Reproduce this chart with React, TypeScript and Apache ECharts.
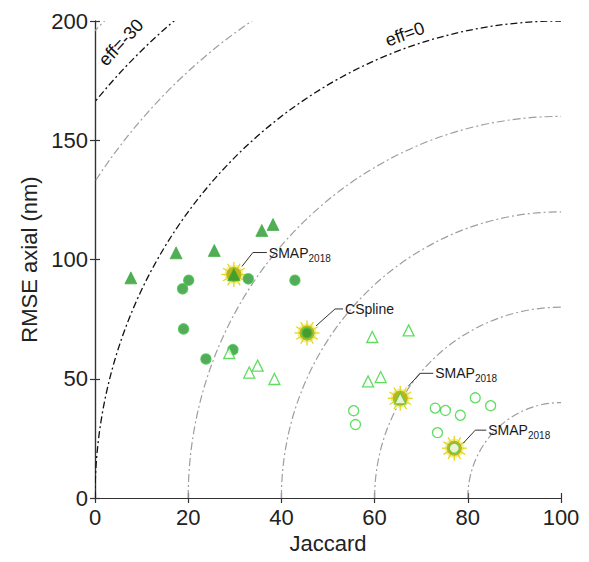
import React, { useEffect, useRef } from "react";
import * as echarts from "echarts";

// ---- data (Jaccard %, RMSE axial nm) ----
const filledTriangles: number[][] = [
  [7.7, 92.3], [17.4, 102.8], [25.6, 103.8], [35.8, 112.2], [38.2, 114.7], [29.8, 93.7],
];
const filledCircles: number[][] = [
  [20.1, 91.3], [18.8, 87.7], [32.9, 91.9], [42.9, 91.3], [19.0, 70.9],
  [29.6, 62.2], [23.8, 58.3], [45.5, 69.2],
];
const openTriangles: number[][] = [
  [28.8, 60.8], [33.1, 52.6], [34.9, 55.5], [38.5, 49.9], [59.5, 67.5],
  [67.3, 70.3], [58.6, 48.9], [61.3, 50.7], [65.5, 41.8],
];
const openCircles: number[][] = [
  [55.5, 36.6], [55.9, 30.8], [73.0, 37.7], [75.2, 36.7], [78.4, 34.7],
  [81.6, 42.0], [84.9, 38.7], [73.5, 27.4], [77.1, 20.9],
];

// iso-efficiency levels
const effGray: number[] = [-40, -20, 20, 40, 60, 80];
const effBlack: number[] = [-30, 0];

// highlighted entries: which array/index, label text, leader-line offsets (px)
const highlights = [
  { set: "filledTriangles", index: 5, main: "SMAP", sub: "2018", start: [8, -8], bend: [19, -22], end: [33, -22] },
  { set: "filledCircles", index: 7, main: "CSpline", sub: "", start: [9, -7], bend: [28, -24], end: [36, -24] },
  { set: "openTriangles", index: 8, main: "SMAP", sub: "2018", start: [8, -12], bend: [20, -25], end: [33, -25] },
  { set: "openCircles", index: 8, main: "SMAP", sub: "2018", start: [9, -5], bend: [21, -18], end: [32, -18] },
];

const effLabels = [
  { text: "eff=-30", at: [5.6, 191], rot: 47 },
  { text: "eff=0", at: [66.5, 194.5], rot: 20 },
];

const xMin = 0, xMax = 100, xInterval = 20;
const yMin = 0, yMax = 200, yInterval = 50;

const sets: Record<string, number[][]> = { filledTriangles, filledCircles, openTriangles, openCircles };

const FONT = "Liberation Sans, Arial, Helvetica, sans-serif";

export default function App() {
  const ref = useRef<HTMLDivElement>(null);
  useEffect(() => {
    if (!ref.current) return;
    const chart = echarts.init(ref.current, undefined, { renderer: "svg" });

    const ellipseSeries = (levels: number[], color: string, width: number, dash: number[]) => ({
      type: "custom",
      coordinateSystem: "cartesian2d",
      clip: true,
      silent: true,
      z: 1,
      encode: { x: 0, y: 1 },
      data: levels.map((e) => [50, 100, e]),
      renderItem: (_p: any, api: any) => {
        const eff = api.value(2);
        const r = 100 - eff;
        const c = api.coord([100, 0]);
        const s = api.size([r, 2 * r]);
        return {
          type: "ellipse",
          shape: { cx: c[0], cy: c[1], rx: s[0], ry: s[1] },
          style: { fill: "none", stroke: color, lineWidth: width, lineDash: dash },
        };
      },
    });

    const hlData = highlights.map((h) => sets[h.set][h.index]);

    const axisCommon = {
      axisLine: { show: true, lineStyle: { color: "#333", width: 1.2 } },
      axisTick: { show: true, inside: true, length: 5, lineStyle: { color: "#333", width: 1.2 } },
      splitLine: { show: false },
    };

    chart.setOption({
      animation: false,
      backgroundColor: "#fff",
      grid: { left: 95, right: 28, top: 21, bottom: 64 },
      xAxis: [
        {
          type: "value", min: xMin, max: xMax, interval: xInterval, position: "bottom",
          name: "Jaccard", nameLocation: "middle", nameGap: 34,
          nameTextStyle: { fontSize: 22, color: "#222", fontFamily: FONT },
          axisLabel: { fontSize: 22, color: "#222", fontFamily: FONT, margin: 8 },
          ...axisCommon,
        },
        {
          type: "value", min: xMin, max: xMax, interval: xInterval, position: "top",
          axisLabel: { show: false }, ...axisCommon,
        },
      ],
      yAxis: [
        {
          type: "value", min: yMin, max: yMax, interval: yInterval, position: "left",
          name: "RMSE axial (nm)", nameLocation: "middle", nameGap: 52,
          nameTextStyle: { fontSize: 22, color: "#222", fontFamily: FONT },
          axisLabel: { fontSize: 22, color: "#222", fontFamily: FONT, margin: 7 },
          ...axisCommon,
        },
        {
          type: "value", min: yMin, max: yMax, interval: yInterval, position: "right",
          axisLabel: { show: false }, ...axisCommon,
        },
      ],
      series: [
        ellipseSeries(effGray, "#9e9e9e", 1.2, [8, 3, 2, 3]),
        ellipseSeries(effBlack, "#111", 1.3, [7, 3, 2, 3]),
        {
          type: "custom",
          coordinateSystem: "cartesian2d",
          z: 2,
          silent: true,
          data: hlData,
          renderItem: (_p: any, api: any) => {
            const c = api.coord([api.value(0), api.value(1)]);
            const rays: any[] = [];
            const n = 12;
            for (let i = 0; i < n; i++) {
              const a = (i / n) * Math.PI * 2;
              rays.push({
                type: "line",
                shape: {
                  x1: c[0] + Math.cos(a) * 6, y1: c[1] + Math.sin(a) * 6,
                  x2: c[0] + Math.cos(a) * 12.5, y2: c[1] + Math.sin(a) * 12.5,
                },
                style: { stroke: "#e0d820", lineWidth: 1.3 },
              });
            }
            return {
              type: "group",
              children: [
                { type: "circle", shape: { cx: c[0], cy: c[1], r: 9.5 }, style: { fill: "rgba(232,222,40,0.5)" } },
                ...rays,
                { type: "circle", shape: { cx: c[0], cy: c[1], r: 7.5 }, style: { fill: "#bdb51e" } },
              ],
            };
          },
        },
        {
          type: "scatter", z: 3, symbol: "triangle", symbolSize: 12, data: filledTriangles,
          itemStyle: { color: "#27992c", borderColor: "#30aa36", borderWidth: 0.8 },
        },
        {
          type: "scatter", z: 3, symbol: "circle", symbolSize: 10, data: filledCircles,
          itemStyle: { color: "#2a9632", borderColor: "#40c046", borderWidth: 1.5 },
        },
        {
          type: "scatter", z: 3, symbol: "triangle", symbolSize: 11, data: openTriangles,
          itemStyle: { color: "#ffffff", borderColor: "#3ad23a", borderWidth: 1.3 },
        },
        {
          type: "scatter", z: 3, symbol: "circle", symbolSize: 10, data: openCircles,
          itemStyle: { color: "#ffffff", borderColor: "#3ad23a", borderWidth: 1.3 },
        },
      ],
    });

    const graphics: any[] = [];
    highlights.forEach((h) => {
      const v = sets[h.set][h.index];
      const p = chart.convertToPixel({ xAxisIndex: 0, yAxisIndex: 0 }, v) as number[];
      graphics.push({
        type: "polyline",
        silent: true,
        z: 10,
        shape: {
          points: [
            [p[0] + h.start[0], p[1] + h.start[1]],
            [p[0] + h.bend[0], p[1] + h.bend[1]],
            [p[0] + h.end[0], p[1] + h.end[1]],
          ],
        },
        style: { stroke: "#333", lineWidth: 1, fill: "none" },
      });
      graphics.push({
        type: "text",
        silent: true,
        z: 10,
        x: p[0] + h.end[0] + 2,
        y: p[1] + h.end[1],
        style: {
          text: h.sub ? `{a|${h.main}}{b|${h.sub}}` : `{a|${h.main}}`,
          align: "left",
          verticalAlign: "middle",
          rich: {
            a: { fontSize: 14, fontFamily: FONT, fill: "#1a1a1a", lineHeight: 21, verticalAlign: "middle" },
            b: { fontSize: 10, fontFamily: FONT, fill: "#1a1a1a", lineHeight: 10, verticalAlign: "bottom" },
          },
        },
      });
    });
    effLabels.forEach((l) => {
      const p = chart.convertToPixel({ xAxisIndex: 0, yAxisIndex: 0 }, l.at) as number[];
      graphics.push({
        type: "text",
        silent: true,
        z: 10,
        x: p[0],
        y: p[1],
        rotation: (l.rot * Math.PI) / 180,
        style: {
          text: l.text, fontSize: 18, fontFamily: FONT, fill: "#111",
          align: "center", verticalAlign: "middle",
        },
      });
    });
    chart.setOption({ graphic: graphics });

    return () => chart.dispose();
  }, []);

  return (
    <div
      ref={ref}
      style={{ position: "fixed", left: 0, top: 0, width: 589, height: 562, background: "#fff" }}
    />
  );
}
